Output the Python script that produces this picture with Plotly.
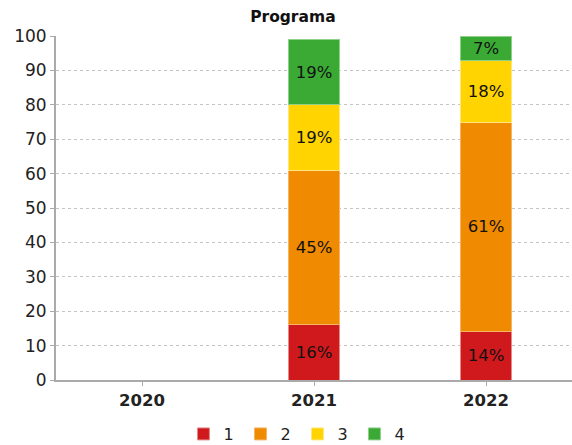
import plotly.graph_objects as go

years = ["2020", "2021", "2022"]
series_names = ["1", "2", "3", "4"]
values = {
    "1": [None, 16, 14],
    "2": [None, 45, 61],
    "3": [None, 19, 18],
    "4": [None, 19, 7],
}
colors = {"1": "#d0191c", "2": "#f08a00", "3": "#ffd400", "4": "#3aaa35"}
edge = {"1": "#e58a8a", "2": "#f5b566", "3": "#ffe680", "4": "#8fd08b"}

fig = go.Figure()
for s in series_names:
    fig.add_trace(go.Bar(
        name=s, x=years, y=values[s],
        marker=dict(color=colors[s], line=dict(color=edge[s], width=1)),
        texttemplate="%{y}%", textposition="inside", insidetextanchor="middle",
        textangle=0, constraintext="none",
        textfont=dict(family="DejaVu Sans", size=16.5, color="#111111"),
        width=0.3,
    ))

fig.update_layout(
    barmode="stack",
    width=572, height=445,
    margin=dict(l=56, r=0, t=36, b=65, autoexpand=False),
    paper_bgcolor="white", plot_bgcolor="white",
    font=dict(family="DejaVu Sans", size=16, color="#222222"),
    title=dict(text="<b>Programa</b>", x=0.512, xref="container", xanchor="center",
               y=0.962, yanchor="middle",
               font=dict(family="DejaVu Sans", size=15.5, color="#111111")),
    showlegend=True,
    legend=dict(orientation="h", xref="container", x=0.52, xanchor="center",
                yref="paper", y=-0.157, yanchor="middle",
                font=dict(family="DejaVu Sans", size=16, color="#222222"),
                traceorder="normal", entrywidth=12, entrywidthmode="pixels",
                tracegroupgap=0),
)
fig.update_xaxes(
    type="category", showline=True, linecolor="#aaaaaa", linewidth=2,
    ticks="outside", ticklen=4, tickcolor="#aaaaaa", automargin=False,
    tickfont=dict(family="DejaVu Sans", size=16.5, color="#222222"),
    tickvals=years, ticktext=["<b>" + y + "</b>" for y in years],
    showgrid=False,
)
fig.update_yaxes(
    range=[0, 100], dtick=10, showline=True, linecolor="#aaaaaa", linewidth=2,
    ticks="outside", ticklen=4, tickcolor="#aaaaaa", automargin=False,
    tickfont=dict(family="DejaVu Sans", size=17, color="#222222"),
    showgrid=True, gridcolor="#c4c4c4", griddash="3px,3px", gridwidth=1,
    zeroline=False,
)

post = ("document.body.style.margin='0';document.body.style.overflow='hidden';"
        "var gd=document.getElementById('{plot_id}');"
        "Plotly.relayout(gd,{width:572,height:445});")
fig.write_html("out.html", post_script=post,
               config={"responsive": False, "displayModeBar": False})
